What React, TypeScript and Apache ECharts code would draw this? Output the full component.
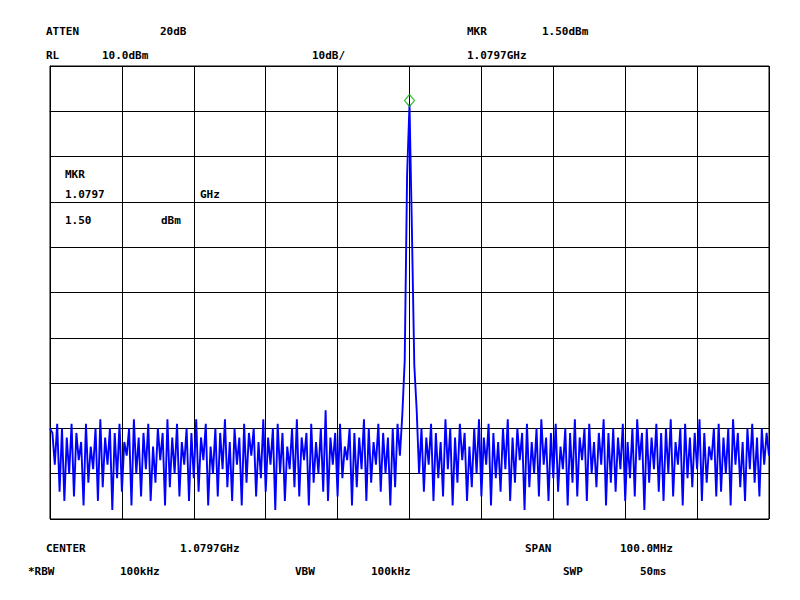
import React, { useEffect, useRef } from "react";
import * as echarts from "echarts";

// Trace: 301 sweep points across the 100 MHz span, amplitude in dBm
const traceDbm: number[] = [
  -70, -71, -78, -69, -84, -70, -86, -72, -80, -69,
  -85, -71, -77, -73, -87, -69, -82, -74, -79, -70,
  -86, -68, -83, -72, -78, -70, -88, -71, -81, -69,
  -84, -73, -76, -70, -87, -68, -80, -72, -85, -71,
  -79, -69, -86, -74, -82, -70, -77, -71, -87, -68,
  -83, -72, -80, -69, -85, -73, -78, -70, -86, -71,
  -81, -68, -84, -72, -77, -69, -87, -74, -80, -70,
  -85, -71, -79, -68, -83, -73, -86, -70, -78, -72,
  -87, -69, -82, -71, -76, -70, -85, -73, -81, -68,
  -84, -72, -78, -70, -88, -69, -80, -71, -86, -74,
  -79, -70, -83, -68, -85, -72, -77, -71, -87, -69,
  -82, -73, -80, -70, -84, -66, -86, -72, -78, -71,
  -85, -69, -81, -74, -77, -70, -87, -71, -83, -72,
  -79, -68, -86, -70, -82, -73, -78, -69, -84, -71,
  -80, -72, -87, -70, -83, -69, -76, -67, -55, -14,
  1.5, -26, -56, -66, -80, -70, -84, -72, -78, -69,
  -86, -71, -81, -73, -85, -68, -79, -70, -87, -72,
  -82, -69, -77, -71, -86, -74, -83, -70, -80, -68,
  -85, -72, -78, -69, -87, -71, -81, -73, -84, -70,
  -79, -68, -86, -72, -82, -70, -77, -71, -88, -69,
  -83, -73, -80, -70, -85, -68, -78, -72, -86, -71,
  -81, -69, -84, -74, -79, -70, -87, -71, -82, -68,
  -85, -72, -77, -70, -86, -69, -80, -73, -83, -71,
  -78, -68, -87, -71, -82, -70, -84, -72, -79, -69,
  -86, -73, -81, -70, -85, -68, -77, -71, -88, -70,
  -82, -72, -79, -69, -84, -71, -86, -70, -80, -68,
  -85, -73, -78, -70, -87, -69, -81, -72, -83, -71,
  -79, -68, -86, -71, -82, -74, -77, -70, -85, -69,
  -84, -72, -80, -70, -87, -68, -78, -71, -83, -73,
  -86, -70, -79, -69, -82, -72, -85, -70, -78, -71,
  -76,
];

const markerIndex = 150;
const markerDbm = 1.5;

// Display annotation texts
const headerLabels = [
  { text: "ATTEN", x: 46, y: 31 },
  { text: "20dB", x: 160, y: 31 },
  { text: "MKR", x: 467, y: 31 },
  { text: "1.50dBm", x: 542, y: 31 },
  { text: "RL", x: 46, y: 55 },
  { text: "10.0dBm", x: 102, y: 55 },
  { text: "10dB/", x: 312, y: 55 },
  { text: "1.0797GHz", x: 467, y: 55 },
];
const markerReadout = [
  { text: "MKR", x: 65, y: 174 },
  { text: "1.0797", x: 65, y: 194 },
  { text: "GHz", x: 200, y: 194 },
  { text: "1.50", x: 65, y: 220 },
  { text: "dBm", x: 161, y: 220 },
];
const footerLabels = [
  { text: "CENTER", x: 46, y: 548 },
  { text: "1.0797GHz", x: 180, y: 548 },
  { text: "SPAN", x: 525, y: 548 },
  { text: "100.0MHz", x: 620, y: 548 },
  { text: "*RBW", x: 28, y: 571 },
  { text: "100kHz", x: 120, y: 571 },
  { text: "VBW", x: 295, y: 571 },
  { text: "100kHz", x: 371, y: 571 },
  { text: "SWP", x: 563, y: 571 },
  { text: "50ms", x: 640, y: 571 },
];

export default function App() {
  const ref = useRef<HTMLDivElement>(null);
  useEffect(() => {
    if (!ref.current) return;
    const chart = echarts.init(ref.current, null, { renderer: "svg" });
    const lastIndex = traceDbm.length - 1;
    const textEls = [...headerLabels, ...markerReadout, ...footerLabels].map((l) => ({
      type: "text",
      x: l.x,
      y: l.y,
      silent: true,
      style: {
        text: l.text,
        fill: "#000",
        font: "bold 11px 'DejaVu Sans Mono', monospace",
        textVerticalAlign: "middle",
        textAlign: "left",
      },
    }));
    chart.setOption({
      animation: false,
      backgroundColor: "#fff",
      grid: {
        left: 50,
        top: 66,
        right: 31,
        bottom: 81,
        show: true,
        borderColor: "#000",
        borderWidth: 1,
        backgroundColor: "transparent",
      },
      xAxis: {
        type: "value",
        min: 0,
        max: lastIndex,
        interval: 30,
        axisLabel: { show: false },
        axisTick: { show: false },
        axisLine: { show: true, lineStyle: { color: "#000", width: 1 } },
        splitLine: { show: true, lineStyle: { color: "#000", width: 1 } },
      },
      yAxis: {
        type: "value",
        min: -90,
        max: 10,
        interval: 10,
        axisLabel: { show: false },
        axisTick: { show: false },
        axisLine: { show: true, lineStyle: { color: "#000", width: 1 } },
        splitLine: { show: true, lineStyle: { color: "#000", width: 1 } },
      },
      series: [
        {
          type: "line",
          data: traceDbm.map((v, i) => [i, v]),
          showSymbol: false,
          symbol: "none",
          lineStyle: { color: "#0000ff", width: 1.9 },
          z: 3,
        },
        {
          type: "scatter",
          data: [[markerIndex, markerDbm]],
          symbol: "diamond",
          symbolSize: [10, 12],
          symbolOffset: [0, -4],
          itemStyle: { color: "rgba(0,0,0,0)", borderColor: "#00b000", borderWidth: 1.2 },
          z: 4,
        },
      ],
      graphic: textEls,
    });
    return () => chart.dispose();
  }, []);
  return <div ref={ref} style={{ width: 800, height: 600, position: "absolute", left: 0, top: 0 }} />;
}
